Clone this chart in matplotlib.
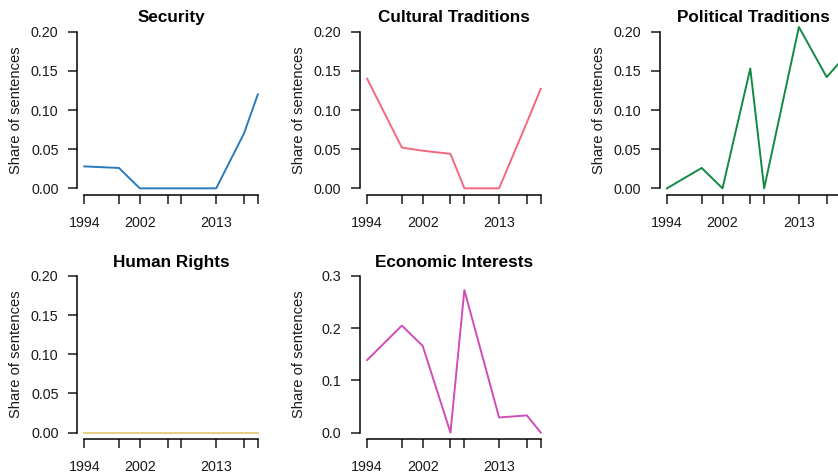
import matplotlib
matplotlib.use('Agg')
import matplotlib.pyplot as plt
from matplotlib.ticker import FormatStrFormatter

plt.rcParams['font.family'] = ['Liberation Sans', 'DejaVu Sans']

years = [1994, 1999, 2002, 2006, 2008, 2013, 2017, 2019]
year_labels = ['1994', '', '2002', '', '', '2013', '', '']

security = [0.028, 0.026, 0.0, 0.0, 0.0, 0.0, 0.070, 0.120]
cultural = [0.140, 0.052, 0.048, 0.044, 0.0, 0.0, 0.084, 0.127]
political = [0.0, 0.026, 0.0, 0.153, 0.0, 0.206, 0.142, 0.162]
human_rights = [0.0, 0.0, 0.0, 0.0, 0.0, 0.0, 0.0, 0.0]
economic = [0.139, 0.205, 0.166, 0.0, 0.273, 0.029, 0.033, 0.0]

titles = ['Security', 'Cultural Traditions', 'Political Traditions',
          'Human Rights', 'Economic Interests']
series = [security, cultural, political, human_rights, economic]
colors = ['#2B7BBA', '#F2697F', '#138A43', '#E9CD84', '#D14DB6']
y_ticks = [[0, 0.05, 0.10, 0.15, 0.20]] * 4 + [[0, 0.1, 0.2, 0.3]]
y_fmt = ['%.2f'] * 4 + ['%.1f']

W, H = 838, 475
fig = plt.figure(figsize=(W / 100, H / 100), dpi=100)

# panel boxes in pixels: left, top (R style plot regions, 4% padding)
lefts = [77.3, 360.2, 660.0, 77.3, 360.2]
tops = [25.4, 25.4, 25.4, 269.7, 269.7]
pw, ph = 187.5, 169.2

for i in range(5):
    ax = fig.add_axes([lefts[i] / W, 1 - (tops[i] + ph) / H, pw / W, ph / H])
    ax.plot(years, series[i], color=colors[i], lw=1.4, clip_on=False)

    yt = y_ticks[i]
    span = yt[-1] - yt[0]
    ax.set_xlim(1993, 2020)
    ax.set_ylim(yt[0] - 0.04 * span, yt[-1] + 0.04 * span)

    ax.set_xticks(years)
    ax.set_xticklabels(year_labels)
    ax.set_yticks(yt)
    ax.yaxis.set_major_formatter(FormatStrFormatter(y_fmt[i]))

    for side in ['top', 'right']:
        ax.spines[side].set_visible(False)
    ax.spines['left'].set_bounds(yt[0], yt[-1])
    ax.spines['bottom'].set_bounds(years[0], years[-1])
    for side in ['left', 'bottom']:
        ax.spines[side].set_linewidth(1.1)

    ax.tick_params(axis='both', direction='out', length=6.5, width=1.1,
                   labelsize=10.3, colors='#1a1a1a')
    ax.tick_params(axis='y', pad=7)
    ax.tick_params(axis='x', pad=9)

    ax.set_ylabel('Share of sentences', fontsize=10.6, color='#1a1a1a')
    ax.yaxis.set_label_coords(-0.29, 0.5)
    ax.set_title(titles[i], fontsize=12.3, fontweight='bold', pad=2)

fig.savefig('out.png', dpi=100)
